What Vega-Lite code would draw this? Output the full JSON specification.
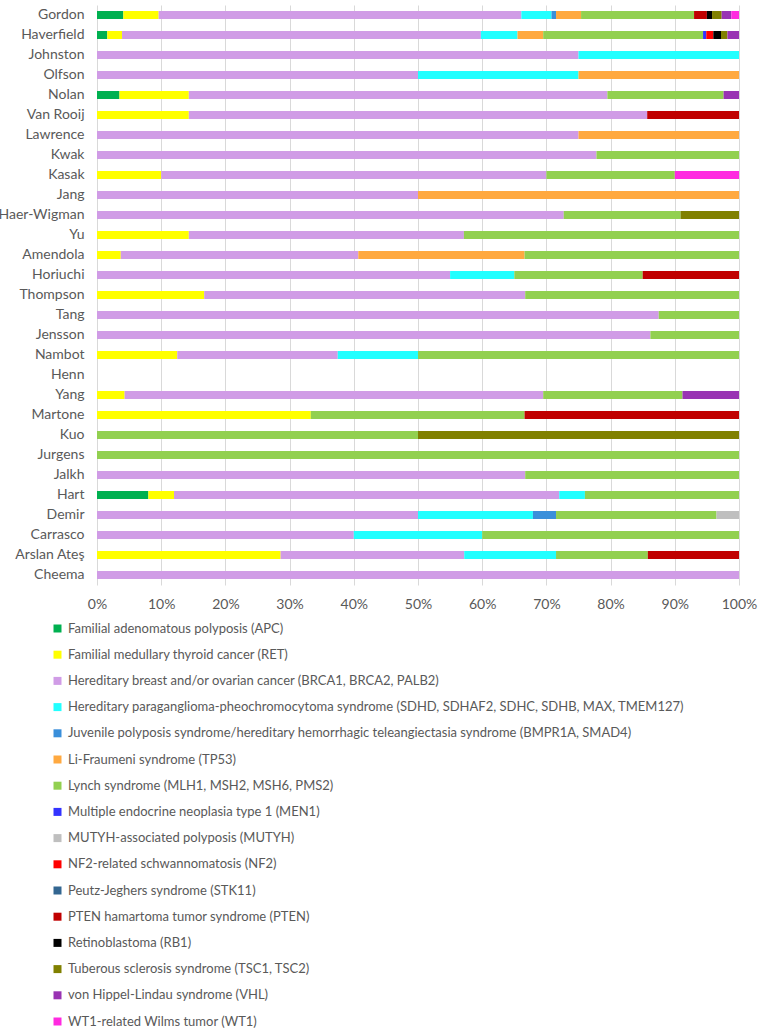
{
  "$schema": "https://vega.github.io/schema/vega-lite/v6.json",
  "autosize": {"type": "none"},
  "padding": {"left": 97, "top": 5, "right": 23, "bottom": 451},
  "width": 642,
  "height": 580,
  "config": {
    "view": {"stroke": null},
    "font": "Lato",
    "axis": {"labelColor": "#595959", "labelFont": "Lato"},
    "legend": {"labelColor": "#595959", "labelFont": "Lato"}
  },
  "data": {
    "values": [
      {"name": "Gordon", "syndrome": "Familial adenomatous polyposis (APC)", "pct": 4.1},
      {"name": "Gordon", "syndrome": "Familial medullary thyroid cancer (RET)", "pct": 5.5},
      {"name": "Gordon", "syndrome": "Hereditary breast and/or ovarian cancer (BRCA1, BRCA2, PALB2)", "pct": 56.5},
      {"name": "Gordon", "syndrome": "Hereditary paraganglioma-pheochromocytoma syndrome (SDHD, SDHAF2, SDHC, SDHB, MAX, TMEM127)", "pct": 4.7},
      {"name": "Gordon", "syndrome": "Juvenile polyposis syndrome/hereditary hemorrhagic teleangiectasia syndrome (BMPR1A, SMAD4)", "pct": 0.7},
      {"name": "Gordon", "syndrome": "Li-Fraumeni syndrome (TP53)", "pct": 3.9},
      {"name": "Gordon", "syndrome": "Lynch syndrome (MLH1, MSH2, MSH6, PMS2)", "pct": 17.6},
      {"name": "Gordon", "syndrome": "PTEN hamartoma tumor syndrome (PTEN)", "pct": 2.0},
      {"name": "Gordon", "syndrome": "Retinoblastoma (RB1)", "pct": 0.8},
      {"name": "Gordon", "syndrome": "Tuberous sclerosis syndrome (TSC1, TSC2)", "pct": 1.5},
      {"name": "Gordon", "syndrome": "von Hippel-Lindau syndrome (VHL)", "pct": 1.5},
      {"name": "Gordon", "syndrome": "WT1-related Wilms tumor (WT1)", "pct": 1.2},

      {"name": "Haverfield", "syndrome": "Familial adenomatous polyposis (APC)", "pct": 1.6},
      {"name": "Haverfield", "syndrome": "Familial medullary thyroid cancer (RET)", "pct": 2.3},
      {"name": "Haverfield", "syndrome": "Hereditary breast and/or ovarian cancer (BRCA1, BRCA2, PALB2)", "pct": 55.9},
      {"name": "Haverfield", "syndrome": "Hereditary paraganglioma-pheochromocytoma syndrome (SDHD, SDHAF2, SDHC, SDHB, MAX, TMEM127)", "pct": 5.7},
      {"name": "Haverfield", "syndrome": "Li-Fraumeni syndrome (TP53)", "pct": 4.0},
      {"name": "Haverfield", "syndrome": "Lynch syndrome (MLH1, MSH2, MSH6, PMS2)", "pct": 24.9},
      {"name": "Haverfield", "syndrome": "Multiple endocrine neoplasia type 1 (MEN1)", "pct": 0.5},
      {"name": "Haverfield", "syndrome": "NF2-related schwannomatosis (NF2)", "pct": 1.1},
      {"name": "Haverfield", "syndrome": "Retinoblastoma (RB1)", "pct": 1.2},
      {"name": "Haverfield", "syndrome": "Tuberous sclerosis syndrome (TSC1, TSC2)", "pct": 1.0},
      {"name": "Haverfield", "syndrome": "von Hippel-Lindau syndrome (VHL)", "pct": 1.8},

      {"name": "Johnston", "syndrome": "Hereditary breast and/or ovarian cancer (BRCA1, BRCA2, PALB2)", "pct": 75},
      {"name": "Johnston", "syndrome": "Hereditary paraganglioma-pheochromocytoma syndrome (SDHD, SDHAF2, SDHC, SDHB, MAX, TMEM127)", "pct": 25},

      {"name": "Olfson", "syndrome": "Hereditary breast and/or ovarian cancer (BRCA1, BRCA2, PALB2)", "pct": 50},
      {"name": "Olfson", "syndrome": "Hereditary paraganglioma-pheochromocytoma syndrome (SDHD, SDHAF2, SDHC, SDHB, MAX, TMEM127)", "pct": 25},
      {"name": "Olfson", "syndrome": "Li-Fraumeni syndrome (TP53)", "pct": 25},

      {"name": "Nolan", "syndrome": "Familial adenomatous polyposis (APC)", "pct": 3.5},
      {"name": "Nolan", "syndrome": "Familial medullary thyroid cancer (RET)", "pct": 10.8},
      {"name": "Nolan", "syndrome": "Hereditary breast and/or ovarian cancer (BRCA1, BRCA2, PALB2)", "pct": 65.2},
      {"name": "Nolan", "syndrome": "Lynch syndrome (MLH1, MSH2, MSH6, PMS2)", "pct": 18.1},
      {"name": "Nolan", "syndrome": "von Hippel-Lindau syndrome (VHL)", "pct": 2.4},

      {"name": "Van Rooij", "syndrome": "Familial medullary thyroid cancer (RET)", "pct": 14.3},
      {"name": "Van Rooij", "syndrome": "Hereditary breast and/or ovarian cancer (BRCA1, BRCA2, PALB2)", "pct": 71.4},
      {"name": "Van Rooij", "syndrome": "PTEN hamartoma tumor syndrome (PTEN)", "pct": 14.3},

      {"name": "Lawrence", "syndrome": "Hereditary breast and/or ovarian cancer (BRCA1, BRCA2, PALB2)", "pct": 75},
      {"name": "Lawrence", "syndrome": "Li-Fraumeni syndrome (TP53)", "pct": 25},

      {"name": "Kwak", "syndrome": "Hereditary breast and/or ovarian cancer (BRCA1, BRCA2, PALB2)", "pct": 77.8},
      {"name": "Kwak", "syndrome": "Lynch syndrome (MLH1, MSH2, MSH6, PMS2)", "pct": 22.2},

      {"name": "Kasak", "syndrome": "Familial medullary thyroid cancer (RET)", "pct": 10},
      {"name": "Kasak", "syndrome": "Hereditary breast and/or ovarian cancer (BRCA1, BRCA2, PALB2)", "pct": 60},
      {"name": "Kasak", "syndrome": "Lynch syndrome (MLH1, MSH2, MSH6, PMS2)", "pct": 20},
      {"name": "Kasak", "syndrome": "WT1-related Wilms tumor (WT1)", "pct": 10},

      {"name": "Jang", "syndrome": "Hereditary breast and/or ovarian cancer (BRCA1, BRCA2, PALB2)", "pct": 50},
      {"name": "Jang", "syndrome": "Li-Fraumeni syndrome (TP53)", "pct": 50},

      {"name": "Haer-Wigman", "syndrome": "Hereditary breast and/or ovarian cancer (BRCA1, BRCA2, PALB2)", "pct": 72.7},
      {"name": "Haer-Wigman", "syndrome": "Lynch syndrome (MLH1, MSH2, MSH6, PMS2)", "pct": 18.2},
      {"name": "Haer-Wigman", "syndrome": "Tuberous sclerosis syndrome (TSC1, TSC2)", "pct": 9.1},

      {"name": "Yu", "syndrome": "Familial medullary thyroid cancer (RET)", "pct": 14.3},
      {"name": "Yu", "syndrome": "Hereditary breast and/or ovarian cancer (BRCA1, BRCA2, PALB2)", "pct": 42.85},
      {"name": "Yu", "syndrome": "Lynch syndrome (MLH1, MSH2, MSH6, PMS2)", "pct": 42.85},

      {"name": "Amendola", "syndrome": "Familial medullary thyroid cancer (RET)", "pct": 3.7},
      {"name": "Amendola", "syndrome": "Hereditary breast and/or ovarian cancer (BRCA1, BRCA2, PALB2)", "pct": 37.0},
      {"name": "Amendola", "syndrome": "Li-Fraumeni syndrome (TP53)", "pct": 25.9},
      {"name": "Amendola", "syndrome": "Lynch syndrome (MLH1, MSH2, MSH6, PMS2)", "pct": 33.4},

      {"name": "Horiuchi", "syndrome": "Hereditary breast and/or ovarian cancer (BRCA1, BRCA2, PALB2)", "pct": 55},
      {"name": "Horiuchi", "syndrome": "Hereditary paraganglioma-pheochromocytoma syndrome (SDHD, SDHAF2, SDHC, SDHB, MAX, TMEM127)", "pct": 10},
      {"name": "Horiuchi", "syndrome": "Lynch syndrome (MLH1, MSH2, MSH6, PMS2)", "pct": 20},
      {"name": "Horiuchi", "syndrome": "PTEN hamartoma tumor syndrome (PTEN)", "pct": 15},

      {"name": "Thompson", "syndrome": "Familial medullary thyroid cancer (RET)", "pct": 16.7},
      {"name": "Thompson", "syndrome": "Hereditary breast and/or ovarian cancer (BRCA1, BRCA2, PALB2)", "pct": 50},
      {"name": "Thompson", "syndrome": "Lynch syndrome (MLH1, MSH2, MSH6, PMS2)", "pct": 33.3},

      {"name": "Tang", "syndrome": "Hereditary breast and/or ovarian cancer (BRCA1, BRCA2, PALB2)", "pct": 87.5},
      {"name": "Tang", "syndrome": "Lynch syndrome (MLH1, MSH2, MSH6, PMS2)", "pct": 12.5},

      {"name": "Jensson", "syndrome": "Hereditary breast and/or ovarian cancer (BRCA1, BRCA2, PALB2)", "pct": 86.2},
      {"name": "Jensson", "syndrome": "Lynch syndrome (MLH1, MSH2, MSH6, PMS2)", "pct": 13.8},

      {"name": "Nambot", "syndrome": "Familial medullary thyroid cancer (RET)", "pct": 12.5},
      {"name": "Nambot", "syndrome": "Hereditary breast and/or ovarian cancer (BRCA1, BRCA2, PALB2)", "pct": 25},
      {"name": "Nambot", "syndrome": "Hereditary paraganglioma-pheochromocytoma syndrome (SDHD, SDHAF2, SDHC, SDHB, MAX, TMEM127)", "pct": 12.5},
      {"name": "Nambot", "syndrome": "Lynch syndrome (MLH1, MSH2, MSH6, PMS2)", "pct": 50},

      {"name": "Yang", "syndrome": "Familial medullary thyroid cancer (RET)", "pct": 4.3},
      {"name": "Yang", "syndrome": "Hereditary breast and/or ovarian cancer (BRCA1, BRCA2, PALB2)", "pct": 65.2},
      {"name": "Yang", "syndrome": "Lynch syndrome (MLH1, MSH2, MSH6, PMS2)", "pct": 21.7},
      {"name": "Yang", "syndrome": "von Hippel-Lindau syndrome (VHL)", "pct": 8.8},

      {"name": "Martone", "syndrome": "Familial medullary thyroid cancer (RET)", "pct": 33.3},
      {"name": "Martone", "syndrome": "Lynch syndrome (MLH1, MSH2, MSH6, PMS2)", "pct": 33.3},
      {"name": "Martone", "syndrome": "PTEN hamartoma tumor syndrome (PTEN)", "pct": 33.4},

      {"name": "Kuo", "syndrome": "Lynch syndrome (MLH1, MSH2, MSH6, PMS2)", "pct": 50},
      {"name": "Kuo", "syndrome": "Tuberous sclerosis syndrome (TSC1, TSC2)", "pct": 50},

      {"name": "Jurgens", "syndrome": "Lynch syndrome (MLH1, MSH2, MSH6, PMS2)", "pct": 100},

      {"name": "Jalkh", "syndrome": "Hereditary breast and/or ovarian cancer (BRCA1, BRCA2, PALB2)", "pct": 66.7},
      {"name": "Jalkh", "syndrome": "Lynch syndrome (MLH1, MSH2, MSH6, PMS2)", "pct": 33.3},

      {"name": "Hart", "syndrome": "Familial adenomatous polyposis (APC)", "pct": 8},
      {"name": "Hart", "syndrome": "Familial medullary thyroid cancer (RET)", "pct": 4},
      {"name": "Hart", "syndrome": "Hereditary breast and/or ovarian cancer (BRCA1, BRCA2, PALB2)", "pct": 60},
      {"name": "Hart", "syndrome": "Hereditary paraganglioma-pheochromocytoma syndrome (SDHD, SDHAF2, SDHC, SDHB, MAX, TMEM127)", "pct": 4},
      {"name": "Hart", "syndrome": "Lynch syndrome (MLH1, MSH2, MSH6, PMS2)", "pct": 24},

      {"name": "Demir", "syndrome": "Hereditary breast and/or ovarian cancer (BRCA1, BRCA2, PALB2)", "pct": 50},
      {"name": "Demir", "syndrome": "Hereditary paraganglioma-pheochromocytoma syndrome (SDHD, SDHAF2, SDHC, SDHB, MAX, TMEM127)", "pct": 17.9},
      {"name": "Demir", "syndrome": "Juvenile polyposis syndrome/hereditary hemorrhagic teleangiectasia syndrome (BMPR1A, SMAD4)", "pct": 3.6},
      {"name": "Demir", "syndrome": "Lynch syndrome (MLH1, MSH2, MSH6, PMS2)", "pct": 25},
      {"name": "Demir", "syndrome": "MUTYH-associated polyposis (MUTYH)", "pct": 3.5},

      {"name": "Carrasco", "syndrome": "Hereditary breast and/or ovarian cancer (BRCA1, BRCA2, PALB2)", "pct": 40},
      {"name": "Carrasco", "syndrome": "Hereditary paraganglioma-pheochromocytoma syndrome (SDHD, SDHAF2, SDHC, SDHB, MAX, TMEM127)", "pct": 20},
      {"name": "Carrasco", "syndrome": "Lynch syndrome (MLH1, MSH2, MSH6, PMS2)", "pct": 40},

      {"name": "Arslan Ateş", "syndrome": "Familial medullary thyroid cancer (RET)", "pct": 28.6},
      {"name": "Arslan Ateş", "syndrome": "Hereditary breast and/or ovarian cancer (BRCA1, BRCA2, PALB2)", "pct": 28.6},
      {"name": "Arslan Ateş", "syndrome": "Hereditary paraganglioma-pheochromocytoma syndrome (SDHD, SDHAF2, SDHC, SDHB, MAX, TMEM127)", "pct": 14.3},
      {"name": "Arslan Ateş", "syndrome": "Lynch syndrome (MLH1, MSH2, MSH6, PMS2)", "pct": 14.3},
      {"name": "Arslan Ateş", "syndrome": "PTEN hamartoma tumor syndrome (PTEN)", "pct": 14.2},

      {"name": "Cheema", "syndrome": "Hereditary breast and/or ovarian cancer (BRCA1, BRCA2, PALB2)", "pct": 100}
    ]
  },
  "transform": [
    {
      "calculate": "indexof(['Familial adenomatous polyposis (APC)', 'Familial medullary thyroid cancer (RET)', 'Hereditary breast and/or ovarian cancer (BRCA1, BRCA2, PALB2)', 'Hereditary paraganglioma-pheochromocytoma syndrome (SDHD, SDHAF2, SDHC, SDHB, MAX, TMEM127)', 'Juvenile polyposis syndrome/hereditary hemorrhagic teleangiectasia syndrome (BMPR1A, SMAD4)', 'Li-Fraumeni syndrome (TP53)', 'Lynch syndrome (MLH1, MSH2, MSH6, PMS2)', 'Multiple endocrine neoplasia type 1 (MEN1)', 'MUTYH-associated polyposis (MUTYH)', 'NF2-related schwannomatosis (NF2)', 'Peutz-Jeghers syndrome (STK11)', 'PTEN hamartoma tumor syndrome (PTEN)', 'Retinoblastoma (RB1)', 'Tuberous sclerosis syndrome (TSC1, TSC2)', 'von Hippel-Lindau syndrome (VHL)', 'WT1-related Wilms tumor (WT1)'], datum.syndrome)",
      "as": "rank"
    }
  ],
  "mark": {"type": "bar"},
  "encoding": {
    "y": {
      "field": "name",
      "type": "nominal",
      "sort": null,
      "scale": {
        "domain": ["Gordon", "Haverfield", "Johnston", "Olfson", "Nolan", "Van Rooij", "Lawrence", "Kwak", "Kasak", "Jang", "Haer-Wigman", "Yu", "Amendola", "Horiuchi", "Thompson", "Tang", "Jensson", "Nambot", "Henn", "Yang", "Martone", "Kuo", "Jurgens", "Jalkh", "Hart", "Demir", "Carrasco", "Arslan Ateş", "Cheema"],
        "paddingInner": 0.6,
        "paddingOuter": 0.3
      },
      "axis": {
        "title": null,
        "ticks": false,
        "domain": false,
        "grid": false,
        "labelFontSize": 14,
        "labelPadding": 13
      }
    },
    "x": {
      "field": "pct",
      "type": "quantitative",
      "stack": "normalize",
      "axis": {
        "title": null,
        "format": ".0%",
        "values": [0, 0.1, 0.2, 0.3, 0.4, 0.5, 0.6, 0.7, 0.8, 0.9, 1],
        "ticks": false,
        "domain": false,
        "labelFlush": false,
        "labelOverlap": false,
        "gridColor": "#d9d9d9",
        "labelFontSize": 14,
        "labelPadding": 12
      }
    },
    "color": {
      "field": "syndrome",
      "type": "nominal",
      "scale": {
        "domain": ["Familial adenomatous polyposis (APC)", "Familial medullary thyroid cancer (RET)", "Hereditary breast and/or ovarian cancer (BRCA1, BRCA2, PALB2)", "Hereditary paraganglioma-pheochromocytoma syndrome (SDHD, SDHAF2, SDHC, SDHB, MAX, TMEM127)", "Juvenile polyposis syndrome/hereditary hemorrhagic teleangiectasia syndrome (BMPR1A, SMAD4)", "Li-Fraumeni syndrome (TP53)", "Lynch syndrome (MLH1, MSH2, MSH6, PMS2)", "Multiple endocrine neoplasia type 1 (MEN1)", "MUTYH-associated polyposis (MUTYH)", "NF2-related schwannomatosis (NF2)", "Peutz-Jeghers syndrome (STK11)", "PTEN hamartoma tumor syndrome (PTEN)", "Retinoblastoma (RB1)", "Tuberous sclerosis syndrome (TSC1, TSC2)", "von Hippel-Lindau syndrome (VHL)", "WT1-related Wilms tumor (WT1)"],
        "range": ["#00b050", "#ffff00", "#d09ce6", "#22ffff", "#3a8fda", "#ffa940", "#92d050", "#3333ff", "#bfbfbf", "#ff0000", "#336691", "#c00000", "#000000", "#808000", "#9933b3", "#ff2ae0"]
      },
      "legend": {
        "title": null,
        "orient": "none",
        "legendX": -46,
        "legendY": 617,
        "direction": "vertical",
        "columns": 1,
        "symbolType": "square",
        "symbolSize": 64,
        "symbolStrokeWidth": 0,
        "labelFontSize": 13,
        "labelLimit": 700,
        "labelOffset": 4,
        "rowPadding": 12.2
      }
    },
    "order": {"field": "rank", "type": "quantitative", "sort": "ascending"}
  }
}
